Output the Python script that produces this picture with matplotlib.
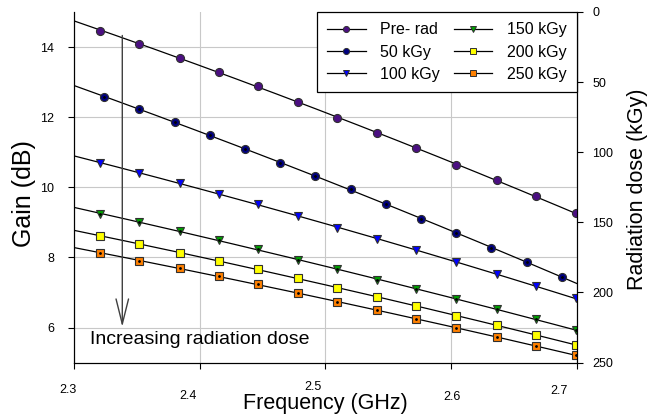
import matplotlib

matplotlib.use("Agg")
import matplotlib.pyplot as plt
import numpy as np

plt.rcParams["font.family"] = ["Liberation Sans", "DejaVu Sans"]

# frequency grids (GHz)
FREQ_A = [2.321, 2.352, 2.384, 2.415, 2.446, 2.478, 2.509,
          2.541, 2.572, 2.604, 2.636, 2.667, 2.699]
FREQ_B = [2.324, 2.352, 2.380, 2.408, 2.436, 2.464, 2.492,
          2.520, 2.548, 2.576, 2.604, 2.632, 2.660, 2.688]

GAIN_PRE = [14.47, 14.09, 13.69, 13.29, 12.89, 12.43, 11.99,
            11.55, 11.12, 10.65, 10.20, 9.74, 9.26]
GAIN_50 = [12.58, 12.22, 11.87, 11.50, 11.09, 10.70, 10.31,
           9.94, 9.51, 9.11, 8.70, 8.28, 7.86, 7.45]
GAIN_100 = [10.69, 10.41, 10.12, 9.82, 9.52, 9.19, 8.85,
            8.53, 8.21, 7.86, 7.53, 7.18, 6.83]
GAIN_150 = [9.25, 9.00, 8.74, 8.49, 8.24, 7.94, 7.66,
            7.37, 7.11, 6.80, 6.52, 6.24, 5.93]
GAIN_200 = [8.61, 8.38, 8.14, 7.91, 7.67, 7.40, 7.13,
            6.87, 6.61, 6.34, 6.07, 5.79, 5.51]
GAIN_250 = [8.13, 7.91, 7.69, 7.46, 7.23, 6.98, 6.74,
            6.49, 6.25, 5.99, 5.74, 5.47, 5.21]

LABELS = ["Pre- rad", "50 kGy", "100 kGy", "150 kGy", "200 kGy", "250 kGy"]
XTICKS = [2.3, 2.4, 2.5, 2.6, 2.7]
XTICK_LABELS = ["2.3", "2.4", "2.5", "2.6", "2.7"]
DOSE_TICKS = [0, 50, 100, 150, 200, 250]

series = [
    (FREQ_A, GAIN_PRE, "o", "#4b0f82", False),
    (FREQ_B, GAIN_50, "o", "#000080", True),
    (FREQ_A, GAIN_100, "v", "#0000ff", False),
    (FREQ_A, GAIN_150, "v", "#00a000", True),
    (FREQ_A, GAIN_200, "s", "#ffff00", False),
    (FREQ_A, GAIN_250, "s", "#ff8000", True),
]

fig = plt.figure(figsize=(6.62, 4.16), dpi=100)
ax = fig.add_axes([74 / 662, 1 - 362.6 / 416, (577 - 74) / 662, (362.6 - 12) / 416])

xs_fit = np.linspace(2.3, 2.7, 200)
handles = []
for fx, gy, mk, col, dot in series:
    coef = np.polyfit(fx, gy, 2)
    ax.plot(xs_fit, np.polyval(coef, xs_fit), color="black", lw=0.9, zorder=2)
    ax.plot(fx, gy, ls="none", marker=mk, ms=5.8, mfc=col, mec="#303030",
            mew=0.8, zorder=3)
    if dot:
        ax.plot(fx, gy, ls="none", marker="o", ms=1.0, color="black", zorder=4)
    h, = ax.plot([], [], color="black", lw=0.9, marker=mk, ms=4.4, mfc=col,
                 mec="#303030", mew=0.7)
    handles.append(h)

ax.set_xlim(2.3, 2.7)
ax.set_ylim(5, 15)
ax.set_xticks(XTICKS)
ax.set_xticklabels([])
ax.set_yticks([6, 8, 10, 12, 14])
ax.tick_params(axis="y", labelsize=9, length=4, pad=10)
ax.tick_params(axis="x", length=4)
ax.grid(True, color="#c8c8c8", lw=0.8)
ax.set_axisbelow(True)
ax.spines["top"].set_visible(False)

# staggered frequency tick labels, as drawn in the original
offs = [(-6, 390), (-12, 396), (-13, 387), (1, 397), (-18, 391)]
for xv, lab, (dx, ypx) in zip(XTICKS, XTICK_LABELS, offs):
    xpx = 74 + (xv - 2.3) / 0.4 * (577 - 74) + dx
    fig.text(xpx / 662, 1 - ypx / 416, lab, fontsize=9, ha="center", va="center")

ax2 = ax.twinx()
ax2.set_ylim(250, 0)
ax2.set_yticks(DOSE_TICKS)
ax2.tick_params(axis="y", labelsize=9, length=4, pad=7)
ax2.spines["top"].set_visible(False)

ax.annotate("", xy=(2.3384, 6.02), xytext=(2.3384, 14.33),
            arrowprops=dict(arrowstyle="->,head_length=1.8,head_width=0.45",
                            color="#404040", lw=1.0, mutation_scale=10,
                            shrinkA=0, shrinkB=0))
ax.text(2.4003, 5.67, "Increasing radiation dose", fontsize=14,
        ha="center", va="center")

leg = ax2.legend(handles, LABELS, ncol=2, loc="upper right",
                 bbox_to_anchor=(1.0, 1.0), fontsize=11.5, frameon=True,
                 fancybox=False, edgecolor="black", framealpha=1,
                 handlelength=2.4, handletextpad=0.9, columnspacing=0.9,
                 labelspacing=0.45, borderpad=0.65, borderaxespad=0)
leg.get_frame().set_linewidth(0.9)

fig.text(325 / 662, 1 - 403 / 416, "Frequency (GHz)", fontsize=15.5,
         ha="center", va="center")
fig.text(24 / 662, 1 - 194 / 416, "Gain (dB)", fontsize=18, rotation=90,
         ha="center", va="center")
fig.text(637 / 662, 1 - 189 / 416, "Radiation dose (kGy)", fontsize=15.5,
         rotation=90, ha="center", va="center")

fig.savefig("out.png", dpi=100)
